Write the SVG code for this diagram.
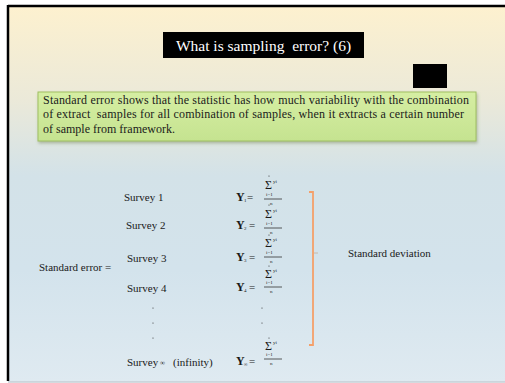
<svg xmlns="http://www.w3.org/2000/svg" width="505" height="383" viewBox="0 0 505 383">
<defs>
<linearGradient id="bg" x1="0" y1="0" x2="0" y2="1">
<stop offset="0" stop-color="#fdf1cf"/>
<stop offset="0.25" stop-color="#ebe9d9"/>
<stop offset="0.45" stop-color="#d3e2e8"/>
<stop offset="0.7" stop-color="#d3e3ec"/>
<stop offset="1" stop-color="#dfeaf1"/>
</linearGradient>
<linearGradient id="gr" x1="0" y1="0" x2="0" y2="1">
<stop offset="0" stop-color="#d6eea3"/>
<stop offset="1" stop-color="#c5e390"/>
</linearGradient>
<filter id="sh" x="-5%" y="-20%" width="110%" height="150%">
<feDropShadow dx="1" dy="2" stdDeviation="1.5" flood-color="#7a8a60" flood-opacity="0.5"/>
</filter>
</defs>
<style>
text{font-family:"Liberation Serif","Times New Roman",serif;fill:#1a1a1a}
.lb{font-size:11px}
.note{font-size:12px}
.y{font-size:12px;font-weight:bold}
.sub{font-size:5px}
.eq{font-size:11px}
.sig{font-size:12px}
.tiny{font-size:5px}
.fl{stroke:#333;stroke-width:0.8}
.dot{fill:#333}
</style>
<rect x="0" y="0" width="505" height="383" fill="#ffffff"/>
<rect x="8" y="6" width="497" height="376" fill="url(#bg)"/>
<line x1="8" y1="6" x2="505" y2="6" stroke="#000" stroke-width="2.5"/>
<line x1="8" y1="5" x2="8" y2="381" stroke="#000" stroke-width="2.5"/>
<line x1="8" y1="382" x2="505" y2="382" stroke="#c4ced4" stroke-width="1.5"/>

<g id="title">
<rect x="163" y="32" width="201" height="26" fill="#000"/>
<text x="263.5" y="51" text-anchor="middle" xml:space="preserve" style="font-size:15.5px;fill:#fff;white-space:pre">What is sampling  error? (6)</text>
</g>
<g id="blackbox">
<rect x="413" y="64" width="34" height="24" fill="#000"/>
</g>
<g id="note">
<rect x="38" y="92" width="438" height="49" fill="url(#gr)" stroke="#9fbf63" stroke-width="1" filter="url(#sh)"/>
<text class="note" x="43" y="104" textLength="426" lengthAdjust="spacing">Standard error shows that the statistic has how much variability with the combination</text>
<text class="note" x="43" y="118" textLength="421" lengthAdjust="spacing" xml:space="preserve" style="white-space:pre">of extract  samples for all combination of samples, when it extracts a certain number</text>
<text class="note" x="43" y="133">of sample from framework.</text>
</g>

<g id="labels">
<text class="lb" x="39" y="271">Standard error =</text>
<text class="lb" x="124" y="201">Survey 1</text>
<text class="lb" x="126" y="229">Survey 2</text>
<text class="lb" x="127" y="262">Survey 3</text>
<text class="lb" x="127" y="292">Survey 4</text>
<text class="lb" x="127" y="366">Survey</text>
<text x="160" y="365" style="font-size:7px">∞</text>
<text class="lb" x="173" y="366">(infinity)</text>
<circle class="dot" cx="153" cy="308" r="0.6"/>
<circle class="dot" cx="153" cy="323" r="0.6"/>
<circle class="dot" cx="153" cy="338" r="0.6"/>
<text class="lb" x="348" y="257">Standard deviation</text>
</g>

<g id="formula1">
<text class="y" x="236" y="201">Y</text><text class="sub" x="244" y="202">1</text><text class="eq" x="247" y="201">=</text>
<circle class="dot" cx="269" cy="176" r="0.6"/><text class="sig" x="265" y="189">Σ</text><text class="tiny" x="273" y="183">yi</text><text class="tiny" x="266" y="196">i=1</text>
<line class="fl" x1="264" y1="199" x2="282" y2="199"/><text class="tiny" x="270" y="205">n</text>
</g>
<g id="formula2">
<text class="y" x="236" y="229">Y</text><text class="sub" x="244" y="230">2</text><text class="eq" x="249" y="229">=</text>
<circle class="dot" cx="269" cy="205" r="0.6"/><text class="sig" x="265" y="218">Σ</text><text class="tiny" x="273" y="212">yi</text><text class="tiny" x="266" y="225">i=1</text>
<line class="fl" x1="264" y1="228" x2="282" y2="228"/><text class="tiny" x="270" y="234">n</text>
</g>
<g id="formula3">
<text class="y" x="236" y="261">Y</text><text class="sub" x="244" y="262">3</text><text class="eq" x="249" y="261">=</text>
<circle class="dot" cx="269" cy="235" r="0.6"/><text class="sig" x="265" y="247">Σ</text><text class="tiny" x="273" y="241">yi</text><text class="tiny" x="266" y="254">i=1</text>
<line class="fl" x1="264" y1="257" x2="282" y2="257"/><text class="tiny" x="270" y="263">n</text>
</g>
<g id="formula4">
<text class="y" x="236" y="291">Y</text><text class="sub" x="244" y="292">4</text><text class="eq" x="249" y="291">=</text>
<circle class="dot" cx="269" cy="266" r="0.6"/><text class="sig" x="265" y="278">Σ</text><text class="tiny" x="273" y="272">yi</text><text class="tiny" x="266" y="284">i=1</text>
<line class="fl" x1="264" y1="287" x2="282" y2="287"/><text class="tiny" x="270" y="293">n</text>
</g>
<circle class="dot" cx="262" cy="308" r="0.6"/>
<circle class="dot" cx="262" cy="323" r="0.6"/>
<g id="formula5">
<text class="y" x="236" y="365">Y</text><text class="sub" x="244" y="366">∞</text><text class="eq" x="249" y="365">=</text>
<circle class="dot" cx="269" cy="338" r="0.6"/><text class="sig" x="265" y="350">Σ</text><text class="tiny" x="273" y="344">yi</text><text class="tiny" x="266" y="356">i=1</text>
<line class="fl" x1="264" y1="359" x2="282" y2="359"/><text class="tiny" x="270" y="365">n</text>
</g>

<g id="connectors">
<path d="M309 192 L313 192 L313 345 L309 345" fill="none" stroke="#f4a06a" stroke-width="1.8"/>
<line x1="314" y1="253" x2="318" y2="253" stroke="#c8b8a8" stroke-width="1"/>
</g>
</svg>
